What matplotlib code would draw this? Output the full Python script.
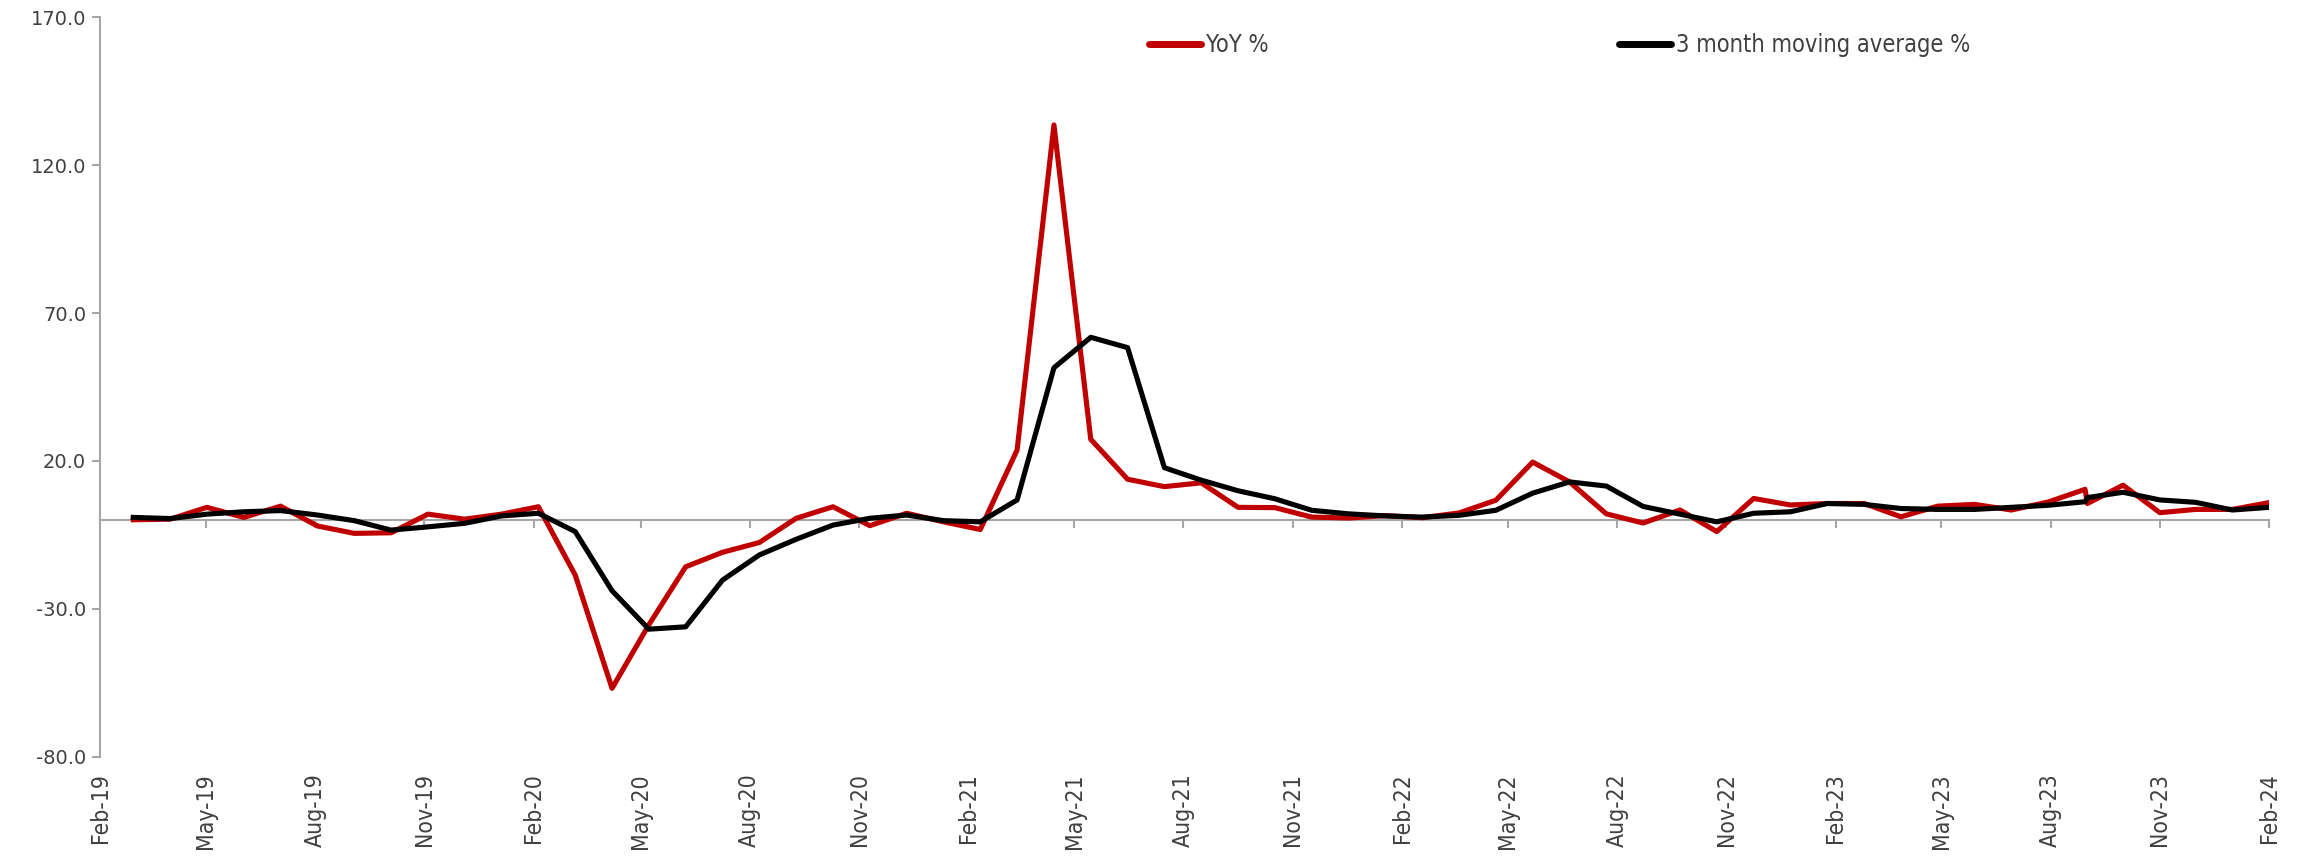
import numpy as np
import pandas as pd
import matplotlib
matplotlib.use("Agg")
import matplotlib.pyplot as plt
import matplotlib.dates as mdates

# observation dates as stored in the sheet (steps of 31 days until Aug-23)
dates = ['2019-03-01', '2019-04-01', '2019-05-02', '2019-06-02', '2019-07-03', '2019-08-03',
         '2019-09-03', '2019-10-04', '2019-11-04', '2019-12-05', '2020-01-05', '2020-02-05',
         '2020-03-07', '2020-04-07', '2020-05-08', '2020-06-08', '2020-07-09', '2020-08-09',
         '2020-09-09', '2020-10-10', '2020-11-10', '2020-12-11', '2021-01-11', '2021-02-11',
         '2021-03-14', '2021-04-14', '2021-05-15', '2021-06-15', '2021-07-16', '2021-08-16',
         '2021-09-16', '2021-10-17', '2021-11-17', '2021-12-18', '2022-01-18', '2022-02-18',
         '2022-03-21', '2022-04-21', '2022-05-22', '2022-06-22', '2022-07-23', '2022-08-23',
         '2022-09-23', '2022-10-24', '2022-11-24', '2022-12-25', '2023-01-25', '2023-02-25',
         '2023-03-28', '2023-04-28', '2023-05-29', '2023-06-29', '2023-07-30', '2023-08-30',
         '2023-09-01', '2023-10-01', '2023-11-01', '2023-12-01', '2024-01-01', '2024-02-01']

yoy = [0.1, 0.3, 4.3, 0.9, 4.7, -2.0, -4.5, -4.3, 2.0, 0.3, 2.0, 4.5,
       -18.6, -56.9, -35.4, -15.8, -10.9, -7.6, 0.6, 4.5, -1.9, 2.3, -0.6, -3.2,
       23.7, 133.6, 27.3, 13.8, 11.3, 12.6, 4.3, 4.2, 1.0, 0.7, 1.5, 0.8,
       2.4, 6.7, 19.6, 12.9, 2.1, -1.0, 3.4, -3.9, 7.3, 5.1, 5.6, 5.6,
       1.1, 4.7, 5.3, 3.4, 6.1, 10.4, 5.6, 11.8, 2.5, 3.6, 3.6, 5.9]

ma3 = [0.9, 0.5, 2.0, 2.8, 3.2, 1.7, -0.2, -3.4, -2.3, -1.1, 1.4, 2.3,
       -3.9, -23.9, -36.9, -36.1, -20.3, -11.8, -6.5, -1.7, 0.6, 1.7, -0.2, -0.6,
       6.8, 51.5, 61.8, 58.3, 17.7, 13.5, 9.9, 7.2, 3.3, 2.1, 1.4, 1.0,
       1.6, 3.3, 9.1, 12.9, 11.5, 4.6, 2.0, -0.6, 2.3, 2.8, 5.6, 5.3,
       3.9, 3.6, 3.6, 4.3, 5.0, 6.2, 7.6, 9.4, 6.8, 6.0, 3.4, 4.3]

tick_labels = ['Feb-19', 'May-19', 'Aug-19', 'Nov-19', 'Feb-20', 'May-20', 'Aug-20',
               'Nov-20', 'Feb-21', 'May-21', 'Aug-21', 'Nov-21', 'Feb-22', 'May-22',
               'Aug-22', 'Nov-22', 'Feb-23', 'May-23', 'Aug-23', 'Nov-23', 'Feb-24']
y_ticks = [-80, -30, 20, 70, 120, 170]

x = pd.to_datetime(dates)
tick_pos = mdates.date2num(pd.to_datetime(tick_labels, format='%b-%y'))

grey = '#A6A6A6'
txt = '#404040'

fig = plt.figure(figsize=(23, 8.57), dpi=100)
ax = fig.add_axes([0.0435, 0.1171, 0.9431, 0.8627])

ax.plot(x, yoy, color='#C00000', lw=3.7, label='YoY %', zorder=3)
ax.plot(x, ma3, color='black', lw=3.7, label='3 month moving average %', zorder=4)

ax.set_xlim(tick_pos[0], tick_pos[-1])
ax.set_ylim(-80, 170)

# y axis
ax.set_yticks(y_ticks)
ax.set_yticklabels(['%.1f' % v for v in y_ticks], fontsize=14, color=txt)
ax.tick_params(axis='y', direction='out', length=6, width=1.5, color=grey, pad=4)

# x axis line sits on zero, labels stay at the bottom
for s in ['top', 'right']:
    ax.spines[s].set_visible(False)
ax.spines['left'].set_color(grey)
ax.spines['left'].set_linewidth(1.5)
ax.spines['bottom'].set_position(('data', 0))
ax.spines['bottom'].set_color(grey)
ax.spines['bottom'].set_linewidth(1.5)
ax.spines['bottom'].set_zorder(2)
ax.set_xticks(tick_pos)
ax.tick_params(axis='x', direction='out', length=6, width=1.5, color=grey, labelbottom=False)

sec = ax.secondary_xaxis('bottom')
sec.set_xticks(tick_pos)
sec.set_xticklabels(tick_labels, rotation=90, fontsize=16.5, color=txt,
                    family='DejaVu Sans', fontstretch='condensed')
sec.tick_params(length=0, pad=12)
sec.spines['bottom'].set_visible(False)

# legend entries placed separately across the top
h1, h2 = ax.get_lines()
lprop = {'family': 'DejaVu Sans', 'stretch': 'condensed', 'size': 17}
leg1 = ax.legend([h1], ['YoY %'], loc='center left', bbox_to_anchor=(1149 / 2300, 1 - 45 / 857),
                 bbox_transform=fig.transFigure, frameon=False, borderpad=0, borderaxespad=0,
                 handlelength=2.2, handletextpad=0.2, prop=lprop)
ax.add_artist(leg1)
leg2 = ax.legend([h2], ['3 month moving average %'], loc='center left',
                 bbox_to_anchor=(1619 / 2300, 1 - 45 / 857), bbox_transform=fig.transFigure,
                 frameon=False, borderpad=0, borderaxespad=0,
                 handlelength=2.2, handletextpad=0.2, prop=lprop)
for lg in (leg1, leg2):
    for t in lg.get_texts():
        t.set_color(txt)
    for ln in lg.get_lines():
        ln.set_solid_capstyle('round')
        ln.set_linewidth(5)

fig.savefig('out.png', dpi=100, facecolor='white')
